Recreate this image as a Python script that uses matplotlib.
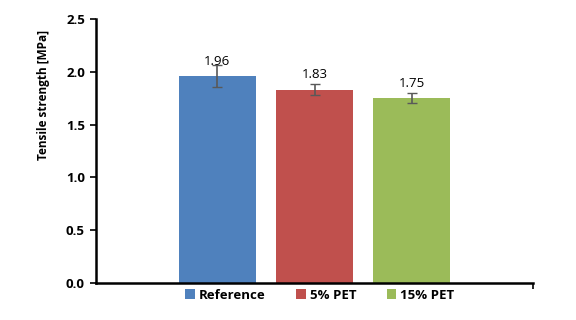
import matplotlib
matplotlib.use('Agg')
import matplotlib.pyplot as plt

# Données
series = ['Reference', '5% PET', '15% PET']
strength = [1.96, 1.83, 1.75]
errors = [0.10, 0.05, 0.05]
colors = ['#4F81BD', '#C0504D', '#9BBB59']
yticks = [0.0, 0.5, 1.0, 1.5, 2.0, 2.5]

plt.rcParams['font.family'] = ['Open Sans', 'DejaVu Sans']

fig = plt.figure(figsize=(5.76, 3.2), dpi=100)
ax = fig.add_axes([0.1667, 0.1156, 0.7587, 0.825])

x = list(range(len(series)))
bars = ax.bar(x, strength, width=0.79, color=colors, label=series,
              yerr=errors, error_kw=dict(ecolor='#595959', elinewidth=1.2,
                                         capsize=3.5, capthick=1.0))

for xi, v in zip(x, strength):
    ax.annotate(f'{v:.2f}', (xi, v), xytext=(0, 6), textcoords='offset points',
                ha='center', va='bottom', fontsize=9.5)

ax.set_xlim(-1.25, 3.25)
ax.set_ylim(0, 2.5)
ax.set_yticks(yticks)
ax.set_yticklabels([f'{t:.1f}' for t in yticks], fontweight='bold', fontsize=9.5)
ax.set_xticks([3.25])
ax.set_xticklabels([''])
ax.set_ylabel('Tensile strength [MPa]', fontweight='bold', fontsize=8.5)
ax.yaxis.set_label_coords(-0.105, 0.712)

for s in ['top', 'right']:
    ax.spines[s].set_visible(False)
for s in ['left', 'bottom']:
    ax.spines[s].set_linewidth(1.8)
ax.tick_params(axis='y', direction='out', length=4, width=1.2, pad=4)
ax.tick_params(axis='x', direction='out', length=4, width=1.2)

leg = fig.legend(handles=bars.patches, labels=series, loc='lower center',
                 bbox_to_anchor=(0.555, 0.02), ncol=3, frameon=False,
                 handlelength=0.75, handleheight=0.75, handletextpad=0.3,
                 columnspacing=2.3, prop={'weight': 'bold', 'size': 9.5})

fig.savefig('out.png', dpi=100)
